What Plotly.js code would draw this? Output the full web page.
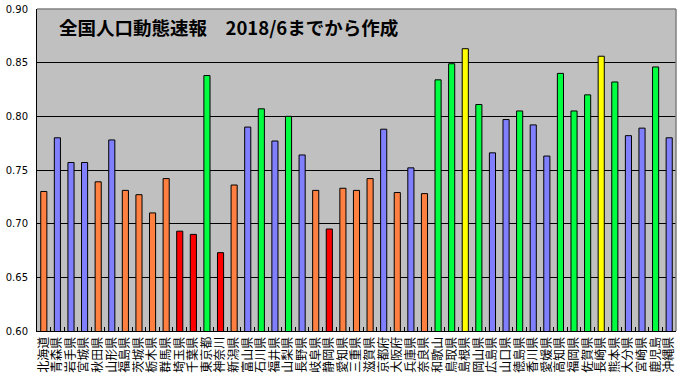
<!DOCTYPE html>
<html>
<head>
<meta charset="utf-8">
<script src="https://cdn.plot.ly/plotly-3.0.1.min.js"></script>
<style>html,body{margin:0;padding:0;background:#fff;}#chart{width:681px;height:386px;}</style>
</head>
<body>
<div id="chart"></div>
<script>
const prefectures = ["北海道","青森県","岩手県","宮城県","秋田県","山形県","福島県","茨城県","栃木県","群馬県",
  "埼玉県","千葉県","東京都","神奈川","新潟県","富山県","石川県","福井県","山梨県","長野県",
  "岐阜県","静岡県","愛知県","三重県","滋賀県","京都府","大阪府","兵庫県","奈良県","和歌山",
  "鳥取県","島根県","岡山県","広島県","山口県","徳島県","香川県","愛媛県","高知県","福岡県",
  "佐賀県","長崎県","熊本県","大分県","宮崎県","鹿児島","沖縄県"];
const ratios = [0.730,0.780,0.757,0.757,0.739,0.778,0.731,0.727,0.710,0.742,
  0.693,0.690,0.838,0.673,0.736,0.790,0.807,0.777,0.800,0.764,
  0.731,0.695,0.733,0.731,0.742,0.788,0.729,0.752,0.728,0.834,
  0.849,0.863,0.811,0.766,0.797,0.805,0.792,0.763,0.840,0.805,
  0.820,0.856,0.832,0.782,0.789,0.846,0.780];
const bandColors = ["O","B","B","B","O","B","O","O","O","O",
  "R","R","G","R","O","B","G","B","G","B",
  "O","R","O","O","O","B","O","B","O","G",
  "G","Y","G","B","B","G","B","B","G","G",
  "G","Y","G","B","B","G","B"];
const yTicks = [0.60,0.65,0.70,0.75,0.80,0.85,0.90];
const yTickText = ["0.60","0.65","0.70","0.75","0.80","0.85","0.90"];
const titleText = "全国人口動態速報　2018/6までから作成";

const palette = {O:"#FF8040", B:"#8080FF", G:"#00FF40", R:"#FF0000", Y:"#FFFF00"};

const trace = {
  type: "bar",
  x: prefectures,
  y: ratios,
  width: 0.45,
  marker: {color: bandColors.map(c => palette[c]), line: {color: "#000", width: 1}},
  hoverinfo: "x+y"
};

const layout = {
  width: 681, height: 386,
  margin: {l: 37, r: 5, t: 9, b: 55},
  paper_bgcolor: "#FFFFFF",
  plot_bgcolor: "#C0C0C0",
  showlegend: false,
  xaxis: {
    type: "category",
    tickmode: "array", tickvals: prefectures, ticktext: prefectures,
    tickangle: -90,
    tickfont: {family: "Noto Sans CJK JP", size: 12, color: "#000"},
    ticks: "inside", ticklen: 4, tickcolor: "#000", tickson: "boundaries",
    showline: true, linecolor: "#000", linewidth: 1,
    showgrid: false, zeroline: false,
    automargin: false
  },
  yaxis: {
    range: [0.60, 0.90],
    tickvals: yTicks, ticktext: yTickText,
    tickfont: {family: "DejaVu Sans", size: 10, color: "#000"},
    showline: true, linecolor: "#000", linewidth: 1,
    showgrid: true, gridcolor: "#000", gridwidth: 1,
    zeroline: false, ticks: "", ticklabelstandoff: 6,
    automargin: false
  },
  shapes: [
    {type: "line", xref: "paper", yref: "paper", x0: 0, x1: 1, y0: 1, y1: 1, line: {color: "#808080", width: 1.5}},
    {type: "line", xref: "paper", yref: "paper", x0: 1, x1: 1, y0: 0, y1: 1, line: {color: "#808080", width: 1.5}}
  ],
  annotations: [{
    text: "<b>" + titleText + "</b>",
    xref: "paper", yref: "paper", x: 0.031, y: 0.944,
    xanchor: "left", yanchor: "middle", showarrow: false,
    font: {family: "Noto Sans CJK JP", size: 18.5, color: "#000"}
  }]
};

Plotly.newPlot("chart", [trace], layout, {displayModeBar: false, staticPlot: true});
</script>
</body>
</html>
